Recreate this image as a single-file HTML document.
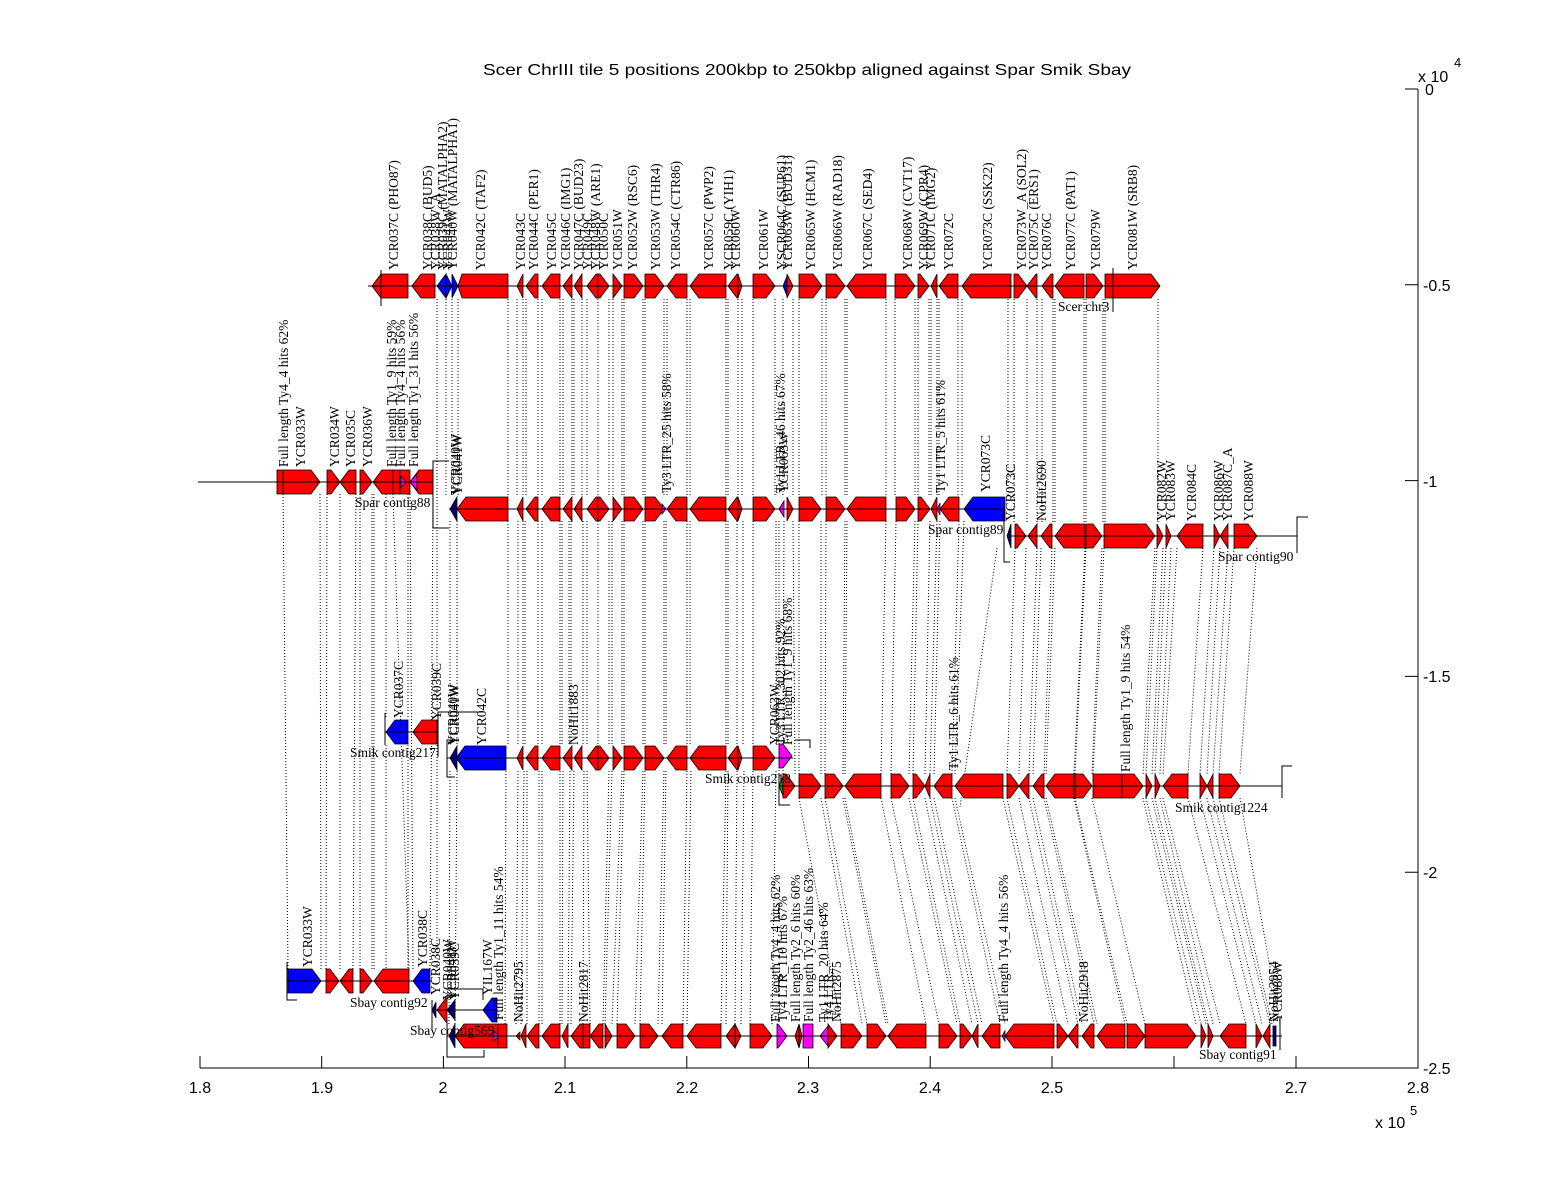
<!DOCTYPE html>
<html><head><meta charset="utf-8"><style>
html,body{margin:0;padding:0;background:#fff;}
svg{display:block;}
.r{fill:#ff0000;stroke:#000;stroke-width:0.8}
.b{fill:#0000ff;stroke:#000;stroke-width:0.8}
.m{fill:#ff00ff;stroke:#000;stroke-width:0.8}
.n{fill:#000080;stroke:#000;stroke-width:0.8}
.g{fill:#00a000;stroke:#000;stroke-width:0.8}
.k{fill:none;stroke:#000;stroke-width:1}
.d{fill:none;stroke:#000;stroke-width:1;stroke-dasharray:1 2}
.l{font-family:"Liberation Serif",serif;font-size:13.5px;fill:#000}
.a{font-family:"Liberation Sans",sans-serif;font-size:16px;fill:#000}
</style></head><body>
<svg width="1568" height="1200" viewBox="0 0 1568 1200" xmlns="http://www.w3.org/2000/svg">
<defs>
<g id="mid">
<polygon class="r" points="517,0 523,-12 523,12"/>
<polygon class="r" points="526,0 535,-12 538,-12 538,12 535,12"/>
<polygon class="r" points="542,0 551,-12 560,-12 560,12 551,12"/>
<polygon class="r" points="563,0 572,-12 572,12"/>
<polygon class="r" points="574,0 582,-12 582,12"/>
<polygon class="r" points="587,0 596,-12 598,-12 598,12 596,12"/>
<polygon class="r" points="598,-12 600,-12 609,0 600,12 598,12"/>
<polygon class="r" points="613,-12 622,0 613,12"/>
<polygon class="r" points="624,-12 634,-12 643,0 634,12 624,12"/>
<polygon class="r" points="645,-12 655,-12 664,0 655,12 645,12"/>
<polygon class="r" points="667,0 676,-12 687,-12 687,12 676,12"/>
<polygon class="r" points="690,0 699,-12 726,-12 726,12 699,12"/>
<polygon class="r" points="728,0 737,-12 738,-12 738,12 737,12"/>
<polygon class="r" points="738,-12 742,0 738,12"/>
<polygon class="r" points="753,-12 766,-12 775,0 766,12 753,12"/>
</g>
</defs>
<rect width="1568" height="1200" fill="#fff"/>

<!-- dotted connector lines -->
<path class="d" d="M437,299V496M446,299V496M452,299V496M458,299V496M508,299V496M517,299V496M523,299V496M526,299V496M538,299V496M542,299V496M560,299V496M563,299V496M572,299V496M574,299V496M582,299V496M587,299V496M598,299V496M609,299V496M613,299V496M622,299V496M624,299V496M643,299V496M645,299V496M664,299V496M667,299V496M687,299V496M690,299V496M726,299V496M728,299V496M738,299V496M742,299V496M753,299V496M775,299V496M783,299V496M793,299V496M799,299V496M822,299V496M826,299V496M845,299V496M847,299V496M886,299V496M895,299V496M915,299V496M918,299V496M929,299V496M931,299V496M937,299V496M939,299V496M958,299V496M962,299V496M1008,299V496"/>
<path class="d" d="M1014,299V524M1027,299V524M1037,299V524M1042,299V524M1053,299V524M1055,299V524M1084,299V524M1086,299V524M1103,299V524M1105,299V524M1158,299V524"/>
<path class="d" d="M450,521V746M457,521V746M508,521V746M518,521V746M523,521V746M525,521V746M538,521V746M542,521V746M560,521V746M562,521V746M569,521V746M571,521V746M583,521V746M587,521V746M598,521V746M609,521V746M612,521V746M622,521V746M624,521V746M643,521V746M645,521V746M664,521V746M666,521V746M687,521V746M690,521V746M726,521V746M728,521V746M737,521V746M743,521V746M753,521V746M776,521V746"/>
<path class="d" d="M779,521L779,774M784,521L783,774M793,521L795,774M799,521L799,774M821,521L821,774M826,521L825,774M845,521L843,774M847,521L845,774M886,521L881,774M896,521L891,774M915,521L909,774M918,521L913,774M930,521L925,774M937,521L930,774M940,521L934,774M959,521L952,774M964,521L955,774"/>
<path class="d" d="M1015,548L1007,774M1026,548L1019,774M1037,548L1029,774M1041,548L1033,774M1052,548L1044,774M1055,548L1046,774M1085,548L1074,774M1086,548L1075,774M1102,548L1092,774M1104,548L1093,774M1155,548L1143,774M1157,548L1146,774M1163,548L1152,774M1166,548L1155,774M1171,548L1160,774M1177,548L1163,774M1203,548L1188,774M1214,548L1200,774M1220,548L1207,774M1228,548L1213,774M1234,548L1219,774M1257,548L1240,774M997,548L960,807"/>
<path class="d" d="M283,494L288,969M320,494L321,969M327,494L326,969M340,494L340,969M356,494L353,969M360,494L360,969M372,494L372,969M374,494L374,969M393,494L409,969M410,494L413,969M433,494L430,969M386,494V719M386,745V969M408,494V719M408,745V969M437,494V712M437,745V969"/>
<path class="d" d="M450,771L449,1024M457,771L455,1024M506,771L505,1024M518,771L516,1024M524,771L521,1024M527,771L527,1024M539,771L539,1024M542,771L542,1024M560,771L560,1024M563,771L562,1024M570,771L568,1024M574,771L571,1024M584,771L583,1024M587,771L590,1024M609,771L603,1024M612,771L605,1024M622,771L612,1024M624,771L617,1024M643,771L635,1024M645,771L640,1024M664,771L658,1024M666,771L662,1024M687,771L683,1024M691,771L687,1024M726,771L721,1024M728,771L726,1024M737,771L735,1024M744,771L741,1024M753,771L750,1024M776,771L772,1024"/>
<path class="d" d="M799,798L841,1024M821,798L862,1024M825,798L867,1024M843,798L886,1024M845,798L888,1024M881,798L926,1024M891,798L939,1024M909,798L957,1024M913,798L960,1024M925,798L972,1024M930,798L978,1024M934,798L982,1024M952,798L1000,1024M955,798L1005,1024M1003,798L1054,1024M1007,798L1057,1024M1019,798L1068,1024M1029,798L1078,1024M1033,798L1082,1024M1044,798L1094,1024M1046,798L1097,1024M1074,798L1125,1024M1075,798L1127,1024M1092,798L1145,1024M1143,798L1196,1024M1146,798L1201,1024M1152,798L1206,1024M1155,798L1208,1024M1160,798L1213,1024M1163,798L1220,1024M1188,798L1246,1024M1200,798L1256,1024M1207,798L1262,1024M1213,798L1270,1024M1219,798L1272,1024M1240,798L1280,1024"/>

<!-- ROW 1 Scer -->
<g transform="translate(0,286)">
<polygon class="r" points="372,0 381,-12 408,-12 408,12 381,12"/>
<polygon class="r" points="412,0 421,-12 435,-12 435,12 421,12"/>
<polygon class="b" points="437,0 446,-12 446,12"/>
<polygon class="b" points="446,-12 452,0 446,12"/>
<polygon class="b" points="452,-12 458,0 452,12"/>
<polygon class="r" points="458,0 462,-12 508,-12 508,12 462,12"/>
<use href="#mid"/>
<polygon class="b" points="783,0 787,-10 787,10"/>
<polygon class="r" points="787,-12 793,0 787,12"/>
<polygon class="r" points="799,-12 813,-12 822,0 813,12 799,12"/>
<polygon class="r" points="826,-12 836,-12 845,0 836,12 826,12"/>
<polygon class="r" points="847,0 856,-12 886,-12 886,12 856,12"/>
<polygon class="r" points="895,-12 906,-12 915,0 906,12 895,12"/>
<polygon class="r" points="918,-12 920,-12 929,0 920,12 918,12"/>
<polygon class="r" points="931,0 937,-12 937,12"/>
<polygon class="r" points="939,0 948,-12 958,-12 958,12 948,12"/>
<polygon class="r" points="962,0 971,-12 1011,-12 1011,12 971,12"/>
<polygon class="r" points="1014,-12 1018,-12 1027,0 1018,12 1014,12"/>
<polygon class="r" points="1027,0 1036,-12 1037,-12 1037,12 1036,12"/>
<polygon class="r" points="1042,0 1051,-12 1053,-12 1053,12 1051,12"/>
<polygon class="r" points="1055,0 1064,-12 1084,-12 1084,12 1064,12"/>
<polygon class="r" points="1086,-12 1094,-12 1103,0 1094,12 1086,12"/>
<polygon class="r" points="1105,-12 1151,-12 1160,0 1151,12 1105,12"/>
<path class="k" d="M368,0H1160M381,-16V20M1113,-18V26"/>
</g>

<!-- ROW 2 Spar contig88 -->
<g transform="translate(0,482)">
<polygon class="r" points="277,-12 311,-12 320,0 311,12 277,12"/>
<polygon class="r" points="327,-12 331,-12 340,0 331,12 327,12"/>
<polygon class="r" points="340,0 349,-12 356,-12 356,12 349,12"/>
<polygon class="r" points="360,-12 363,-12 372,0 363,12 360,12"/>
<polygon class="r" points="373,0 382,-12 393,-12 393,12 382,12"/>
<polygon class="r" points="393,-12 400,-12 400,12 393,12"/>
<polygon class="r" points="400,-12 410,-12 410,12 400,12"/>
<polygon class="m" points="401,-6 406,0 401,6"/>
<polygon class="r" points="410,0 419,-12 433,-12 433,12 419,12"/>
<polygon class="m" points="410,0 417,-8 417,8"/>
<path class="k" d="M198,0H433M283,-12V12"/>
</g>
<path class="k" d="M449,461H433V528H449"/>

<!-- Spar contig89 -->
<g transform="translate(0,509)">
<polygon class="n" points="450,0 457,-12 457,12"/>
<polygon class="r" points="457,0 466,-12 508,-12 508,12 466,12"/>
<use href="#mid"/>
<polygon class="m" points="662,-5 666,0 662,5"/>
<polygon class="m" points="779,0 784,-8 784,8"/>
<polygon class="r" points="787,-12 793,0 787,12"/>
<polygon class="r" points="799,-12 812,-12 821,0 812,12 799,12"/>
<polygon class="r" points="826,-12 836,-12 845,0 836,12 826,12"/>
<polygon class="r" points="847,0 856,-12 886,-12 886,12 856,12"/>
<polygon class="r" points="896,-12 906,-12 915,0 906,12 896,12"/>
<polygon class="r" points="918,-12 921,-12 930,0 921,12 918,12"/>
<polygon class="r" points="931,0 937,-12 937,12"/>
<polygon class="m" points="937,0 940,-6 940,6"/>
<polygon class="r" points="940,0 949,-12 959,-12 959,12 949,12"/>
<polygon class="b" points="964,0 973,-12 1005,-12 1005,12 973,12"/>
<path class="k" d="M449,0H1005"/>
</g>
<path class="k" d="M1004,509V562H1010"/>

<!-- Spar contig90 -->
<g transform="translate(0,536)">
<polygon class="n" points="1007,0 1011,-12 1011,12"/>
<polygon class="r" points="1015,-12 1017,-12 1026,0 1017,12 1015,12"/>
<polygon class="r" points="1028,0 1037,-12 1037,12"/>
<polygon class="r" points="1041,0 1050,-12 1052,-12 1052,12 1050,12"/>
<polygon class="r" points="1055,0 1064,-12 1085,-12 1085,12 1064,12"/>
<polygon class="r" points="1086,-12 1093,-12 1102,0 1093,12 1086,12"/>
<polygon class="r" points="1104,-12 1146,-12 1155,0 1146,12 1104,12"/>
<polygon class="r" points="1157,-12 1163,0 1157,12"/>
<polygon class="r" points="1166,-12 1171,0 1166,12"/>
<polygon class="r" points="1177,0 1186,-12 1203,-12 1203,12 1186,12"/>
<polygon class="r" points="1214,-12 1220,0 1214,12"/>
<polygon class="r" points="1220,0 1228,-12 1228,12"/>
<polygon class="r" points="1234,-12 1248,-12 1257,0 1248,12 1234,12"/>
<path class="k" d="M1007,0H1297"/>
</g>
<path class="k" d="M1308,517H1297V553"/>

<!-- ROW 3 Smik contig217 -->
<g transform="translate(0,732)">
<polygon class="b" points="386,0 395,-12 408,-12 408,12 395,12"/>
<polygon class="r" points="413,0 422,-12 437,-12 437,12 422,12"/>
<path class="k" d="M385,0H438M385,-19V13"/>
</g>
<path class="k" d="M438,757V712H483"/>
<path class="k" d="M455,740H447V777H455"/>
<!-- Smik contig218 -->
<g transform="translate(0,758)">
<polygon class="n" points="450,0 457,-12 457,12"/>
<polygon class="b" points="456,0 465,-12 506,-12 506,12 465,12"/>
<use href="#mid"/>
<polygon class="m" points="779,-14 783,-14 792,-2 783,10 779,10"/>
<path class="k" d="M447,0H793"/>
</g>
<path class="k" d="M795,740H810V748M779,773V805H790"/>
<!-- Smik contig1224 -->
<g transform="translate(0,786)">
<polygon class="g" points="779,0 783,-10 783,10"/>
<polygon class="r" points="783,-12 786,-12 795,0 786,12 783,12"/>
<polygon class="r" points="799,-12 812,-12 821,0 812,12 799,12"/>
<polygon class="r" points="825,-12 834,-12 843,0 834,12 825,12"/>
<polygon class="r" points="845,0 854,-12 881,-12 881,12 854,12"/>
<polygon class="r" points="891,-12 900,-12 909,0 900,12 891,12"/>
<polygon class="r" points="913,-12 916,-12 925,0 916,12 913,12"/>
<polygon class="r" points="925,0 930,-12 930,12"/>
<polygon class="r" points="934,0 943,-12 952,-12 952,12 943,12"/>
<polygon class="r" points="955,0 964,-12 1003,-12 1003,12 964,12"/>
<polygon class="r" points="1007,-12 1010,-12 1019,0 1010,12 1007,12"/>
<polygon class="r" points="1019,0 1028,-12 1029,-12 1029,12 1028,12"/>
<polygon class="r" points="1033,0 1042,-12 1044,-12 1044,12 1042,12"/>
<polygon class="r" points="1046,0 1055,-12 1074,-12 1074,12 1055,12"/>
<polygon class="r" points="1075,-12 1083,-12 1092,0 1083,12 1075,12"/>
<polygon class="r" points="1093,-12 1134,-12 1143,0 1134,12 1093,12"/>
<polygon class="r" points="1146,-12 1152,0 1146,12"/>
<polygon class="r" points="1155,-12 1160,0 1155,12"/>
<polygon class="r" points="1163,0 1172,-12 1188,-12 1188,12 1172,12"/>
<polygon class="r" points="1200,-12 1207,0 1200,12"/>
<polygon class="r" points="1207,0 1213,-12 1213,12"/>
<polygon class="r" points="1219,-12 1231,-12 1240,0 1231,12 1219,12"/>
<path class="k" d="M779,0H1282M1122,-12V12"/>
</g>
<path class="k" d="M1292,766H1282V798"/>

<!-- ROW 4 Sbay contig92 -->
<g transform="translate(0,981)">
<polygon class="b" points="288,-12 312,-12 321,0 312,12 288,12"/>
<polygon class="r" points="326,-12 330,-12 339,0 330,12 326,12"/>
<polygon class="r" points="340,0 349,-12 353,-12 353,12 349,12"/>
<polygon class="r" points="360,-12 363,-12 372,0 363,12 360,12"/>
<polygon class="r" points="374,0 383,-12 409,-12 409,12 383,12"/>
<polygon class="b" points="413,0 422,-12 430,-12 430,12 422,12"/>
<path class="k" d="M287,0H432"/>
</g>
<path class="k" d="M287,962V1000H297"/>
<!-- Sbay middle contig -->
<g transform="translate(0,1010)">
<polygon class="n" points="432,0 436,-8 436,8"/>
<polygon class="r" points="437,0 446,-12 447,-12 447,12 446,12"/>
<polygon class="n" points="447,0 455,-10 455,10"/>
<polygon class="b" points="483,0 492,-12 497,-12 497,12 492,12"/>
<path class="k" d="M432,0H497"/>
</g>
<path class="k" d="M432,1000V1028M450,989H483V1000"/>
<!-- Sbay contig91 -->
<g transform="translate(0,1036)">
<polygon class="n" points="449,0 455,-12 455,12"/>
<polygon class="r" points="455,0 464,-12 498,-12 498,12 464,12"/>
<polygon class="m" points="494,-5 499,0 494,5"/>
<polygon class="r" points="498,-12 507,-12 507,12 498,12"/>
<polygon class="r" points="516,0 520,-4 520,4"/>
<polygon class="r" points="521,0 526,-12 526,12"/>
<polygon class="r" points="527,0 536,-12 539,-12 539,12 536,12"/>
<polygon class="r" points="542,0 551,-12 560,-12 560,12 551,12"/>
<polygon class="r" points="562,0 568,-12 568,12"/>
<polygon class="r" points="571,0 580,-12 583,-12 583,12 580,12"/>
<polygon class="r" points="583,-12 590,-12 590,12 583,12"/>
<polygon class="r" points="590,0 599,-12 603,-12 603,12 599,12"/>
<polygon class="r" points="605,-12 612,0 605,12"/>
<polygon class="r" points="617,-12 626,-12 635,0 626,12 617,12"/>
<polygon class="r" points="640,-12 649,-12 658,0 649,12 640,12"/>
<polygon class="r" points="662,0 671,-12 683,-12 683,12 671,12"/>
<polygon class="r" points="687,0 696,-12 721,-12 721,12 696,12"/>
<polygon class="r" points="726,0 735,-12 735,12"/>
<polygon class="r" points="735,-12 741,0 735,12"/>
<polygon class="r" points="750,-12 763,-12 772,0 763,12 750,12"/>
<polygon class="m" points="777,-12 778,-12 787,0 778,12 777,12"/>
<polygon class="r" points="795,0 799,-12 799,12"/>
<polygon class="r" points="799,-12 802,0 799,12"/>
<polygon class="m" points="803,-12 813,-12 813,12 803,12"/>
<polygon class="m" points="820,0 828,-10 828,10"/>
<polygon class="r" points="828,-12 837,0 828,12"/>
<polygon class="r" points="841,-12 853,-12 862,0 853,12 841,12"/>
<polygon class="r" points="867,-12 877,-12 886,0 877,12 867,12"/>
<polygon class="r" points="888,0 897,-12 926,-12 926,12 897,12"/>
<polygon class="r" points="939,-12 948,-12 957,0 948,12 939,12"/>
<polygon class="r" points="960,-12 963,-12 972,0 963,12 960,12"/>
<polygon class="r" points="972,0 978,-12 978,12"/>
<polygon class="r" points="982,0 991,-12 1000,-12 1000,12 991,12"/>
<polygon class="m" points="1002,0 1005,-5 1005,5"/>
<polygon class="r" points="1005,0 1014,-12 1054,-12 1054,12 1014,12"/>
<polygon class="r" points="1057,-12 1059,-12 1068,0 1059,12 1057,12"/>
<polygon class="r" points="1068,0 1077,-12 1078,-12 1078,12 1077,12"/>
<polygon class="r" points="1082,0 1091,-12 1094,-12 1094,12 1091,12"/>
<polygon class="r" points="1097,0 1106,-12 1125,-12 1125,12 1106,12"/>
<polygon class="r" points="1127,-12 1136,-12 1145,0 1136,12 1127,12"/>
<polygon class="r" points="1145,-12 1187,-12 1196,0 1187,12 1145,12"/>
<polygon class="r" points="1201,-12 1206,0 1201,12"/>
<polygon class="r" points="1208,-12 1213,0 1208,12"/>
<polygon class="r" points="1220,0 1229,-12 1246,-12 1246,12 1229,12"/>
<polygon class="r" points="1256,-12 1262,0 1256,12"/>
<polygon class="r" points="1263,0 1270,-12 1270,12"/>
<polygon class="n" points="1273,-10 1276,-10 1276,10 1273,10"/>
<path class="k" d="M447,0H1282M1280,-18V14"/>
</g>
<path class="k" d="M447,1020V1057H484V1050"/>

<!-- rotated labels row 1 -->
<g class="l">
<text transform="translate(398,270) rotate(-90)">YCR037C (PHO87)</text>
<text transform="translate(432,270) rotate(-90)">YCR038C (BUD5)</text>
<text transform="translate(440,270) rotate(-90)">YCR038W_A</text>
<text transform="translate(447,270) rotate(-90)">YCR039C (MATALPHA2)</text>
<text transform="translate(452,270) rotate(-90)">YCR041W</text>
<text transform="translate(457,270) rotate(-90)">YCR040W (MATALPHA1)</text>
<text transform="translate(485,270) rotate(-90)">YCR042C (TAF2)</text>
<text transform="translate(525,270) rotate(-90)">YCR043C</text>
<text transform="translate(538,270) rotate(-90)">YCR044C (PER1)</text>
<text transform="translate(556,270) rotate(-90)">YCR045C</text>
<text transform="translate(570,270) rotate(-90)">YCR046C (IMG1)</text>
<text transform="translate(583,270) rotate(-90)">YCR047C (BUD23)</text>
<text transform="translate(592,270) rotate(-90)">YCR049C</text>
<text transform="translate(600,270) rotate(-90)">YCR048W (ARE1)</text>
<text transform="translate(608,270) rotate(-90)">YCR050C</text>
<text transform="translate(622,270) rotate(-90)">YCR051W</text>
<text transform="translate(637,270) rotate(-90)">YCR052W (RSC6)</text>
<text transform="translate(660,270) rotate(-90)">YCR053W (THR4)</text>
<text transform="translate(680,270) rotate(-90)">YCR054C (CTR86)</text>
<text transform="translate(713,270) rotate(-90)">YCR057C (PWP2)</text>
<text transform="translate(733,270) rotate(-90)">YCR059C (YIH1)</text>
<text transform="translate(740,270) rotate(-90)">YCR060W</text>
<text transform="translate(768,270) rotate(-90)">YCR061W</text>
<text transform="translate(786,270) rotate(-90)">YSCR064C (SUP61)</text>
<text transform="translate(792,270) rotate(-90)">YCR063W (BUD31)</text>
<text transform="translate(815,270) rotate(-90)">YCR065W (HCM1)</text>
<text transform="translate(842,270) rotate(-90)">YCR066W (RAD18)</text>
<text transform="translate(872,270) rotate(-90)">YCR067C (SED4)</text>
<text transform="translate(912,270) rotate(-90)">YCR068W (CVT17)</text>
<text transform="translate(928,270) rotate(-90)">YCR069W (CPR4)</text>
<text transform="translate(935,270) rotate(-90)">YCR071C (IMG2)</text>
<text transform="translate(953,270) rotate(-90)">YCR072C</text>
<text transform="translate(992,270) rotate(-90)">YCR073C (SSK22)</text>
<text transform="translate(1026,270) rotate(-90)">YCR073W_A (SOL2)</text>
<text transform="translate(1038,270) rotate(-90)">YCR075C (ERS1)</text>
<text transform="translate(1051,270) rotate(-90)">YCR076C</text>
<text transform="translate(1075,270) rotate(-90)">YCR077C (PAT1)</text>
<text transform="translate(1100,270) rotate(-90)">YCR079W</text>
<text transform="translate(1137,270) rotate(-90)">YCR081W (SRB8)</text>

<!-- row 2 -->
<text transform="translate(288,467) rotate(-90)">Full length Ty4_4 hits 62%</text>
<text transform="translate(305,467) rotate(-90)">YCR033W</text>
<text transform="translate(339,467) rotate(-90)">YCR034W</text>
<text transform="translate(355,467) rotate(-90)">YCR035C</text>
<text transform="translate(372,467) rotate(-90)">YCR036W</text>
<text transform="translate(396,467) rotate(-90)">Full length Ty1_9 hits 59%</text>
<text transform="translate(405,467) rotate(-90)">Full length Ty4_4 hits 56%</text>
<text transform="translate(418,467) rotate(-90)">Full length Ty1_31 hits 56%</text>
<text transform="translate(460,495) rotate(-90)">YCR040W</text>
<text transform="translate(462,495) rotate(-90)">YCR041W</text>
<text transform="translate(671,493) rotate(-90)">Ty3 LTR_25 hits 58%</text>
<text transform="translate(785,493) rotate(-90)">Ty1 LTR_46 hits 67%</text>
<text transform="translate(788,493) rotate(-90)">YCR063W</text>
<text transform="translate(945,493) rotate(-90)">Ty1 LTR_5 hits 61%</text>
<text transform="translate(990,492) rotate(-90)">YCR073C</text>
<text transform="translate(1015,521) rotate(-90)">YCR073C</text>
<text transform="translate(1046,521) rotate(-90)">NoHit2690</text>
<text transform="translate(1166,521) rotate(-90)">YCR082W</text>
<text transform="translate(1175,521) rotate(-90)">YCR083W</text>
<text transform="translate(1196,521) rotate(-90)">YCR084C</text>
<text transform="translate(1223,521) rotate(-90)">YCR086W</text>
<text transform="translate(1232,521) rotate(-90)">YCR087C_A</text>
<text transform="translate(1253,521) rotate(-90)">YCR088W</text>

<!-- row 3 -->
<text transform="translate(403,718) rotate(-90)">YCR037C</text>
<text transform="translate(441,720) rotate(-90)">YCR039C</text>
<text transform="translate(457,745) rotate(-90)">YCR040W</text>
<text transform="translate(459,745) rotate(-90)">YCR041W</text>
<text transform="translate(486,745) rotate(-90)">YCR042C</text>
<text transform="translate(578,745) rotate(-90)">NoHit1883</text>
<text transform="translate(779,745) rotate(-90)">YCR063W</text>
<text transform="translate(785,745) rotate(-90)">Ty3 LTR_302 hits 92%</text>
<text transform="translate(792,745) rotate(-90)">Full length Ty1_9 hits 68%</text>
<text transform="translate(958,770) rotate(-90)">Ty1 LTR_6 hits 61%</text>
<text transform="translate(1130,772) rotate(-90)">Full length Ty1_9 hits 54%</text>

<!-- row 4 -->
<text transform="translate(312,967) rotate(-90)">YCR033W</text>
<text transform="translate(427,967) rotate(-90)">YCR038C</text>
<text transform="translate(440,995) rotate(-90)">YCR038C</text>
<text transform="translate(452,1000) rotate(-90)">YCR040W</text>
<text transform="translate(456,1000) rotate(-90)">YCR041W</text>
<text transform="translate(459,1000) rotate(-90)">YCR039C</text>
<text transform="translate(492,995) rotate(-90)">YIL167W</text>
<text transform="translate(503,1020) rotate(-90)">Full length Ty1_11 hits 54%</text>
<text transform="translate(523,1022) rotate(-90)">NoHit2795</text>
<text transform="translate(588,1022) rotate(-90)">NoHit2817</text>
<text transform="translate(780,1022) rotate(-90)">Full length Ty4_4 hits 62%</text>
<text transform="translate(787,1022) rotate(-90)">Ty4 LTR_110 hits 67%</text>
<text transform="translate(800,1022) rotate(-90)">Full length Ty2_6 hits 60%</text>
<text transform="translate(813,1022) rotate(-90)">Full length Ty2_46 hits 63%</text>
<text transform="translate(828,1022) rotate(-90)">Ty1 LTR_20 hits 64%</text>
<text transform="translate(833,1022) rotate(-90)">Ty4 LTR</text>
<text transform="translate(841,1022) rotate(-90)">NoHit2875</text>
<text transform="translate(1008,1022) rotate(-90)">Full length Ty4_4 hits 56%</text>
<text transform="translate(1088,1022) rotate(-90)">NoHit2918</text>
<text transform="translate(1278,1022) rotate(-90)">NoHit2954</text>
<text transform="translate(1282,1022) rotate(-90)">YCR088W</text>

<!-- contig names -->
<text x="1058" y="311">Scer chr3</text>
<text x="355" y="507">Spar contig88</text>
<text x="928" y="534">Spar contig89</text>
<text x="1218" y="561">Spar contig90</text>
<text x="350" y="757">Smik contig217</text>
<text x="705" y="783">Smik contig218</text>
<text x="1175" y="812">Smik contig1224</text>
<text x="350" y="1007">Sbay contig92</text>
<text x="410" y="1035">Sbay contig569</text>
<text x="1199" y="1059">Sbay contig91</text>
</g>

<!-- axes -->
<path class="k" d="M200,1068H1418V89"/>
<path class="k" d="M200,1068V1056M321.7,1068V1056M443.4,1068V1056M565,1068V1056M686.8,1068V1056M808.5,1068V1056M930.2,1068V1056M1052,1068V1056M1174,1068V1056M1296,1068V1056M1418,1068V1056"/>
<path class="k" d="M1418,89H1405M1418,284.8H1405M1418,480.6H1405M1418,676.4H1405M1418,872.2H1405M1418,1068H1405"/>
<g class="a" text-anchor="middle">
<text x="200" y="1093">1.8</text>
<text x="322" y="1093">1.9</text>
<text x="443" y="1093">2</text>
<text x="565" y="1093">2.1</text>
<text x="687" y="1093">2.2</text>
<text x="808" y="1093">2.3</text>
<text x="930" y="1093">2.4</text>
<text x="1052" y="1093">2.5</text>
<text x="1296" y="1093">2.7</text>
<text x="1418" y="1093">2.8</text>
</g>
<g class="a">
<text x="1425" y="95">0</text>
<text x="1423" y="291">-0.5</text>
<text x="1423" y="487">-1</text>
<text x="1423" y="682">-1.5</text>
<text x="1423" y="878">-2</text>
<text x="1423" y="1074">-2.5</text>
<text x="1418" y="82">x 10</text>
<text x="1454" y="67" style="font-size:13px">4</text>
<text x="1375" y="1128">x 10</text>
<text x="1410" y="1115" style="font-size:13px">5</text>
<text x="807" y="75" text-anchor="middle" textLength="648" lengthAdjust="spacingAndGlyphs">Scer ChrIII tile 5 positions 200kbp to 250kbp aligned against Spar Smik Sbay</text>
</g>
</svg>
</body></html>
